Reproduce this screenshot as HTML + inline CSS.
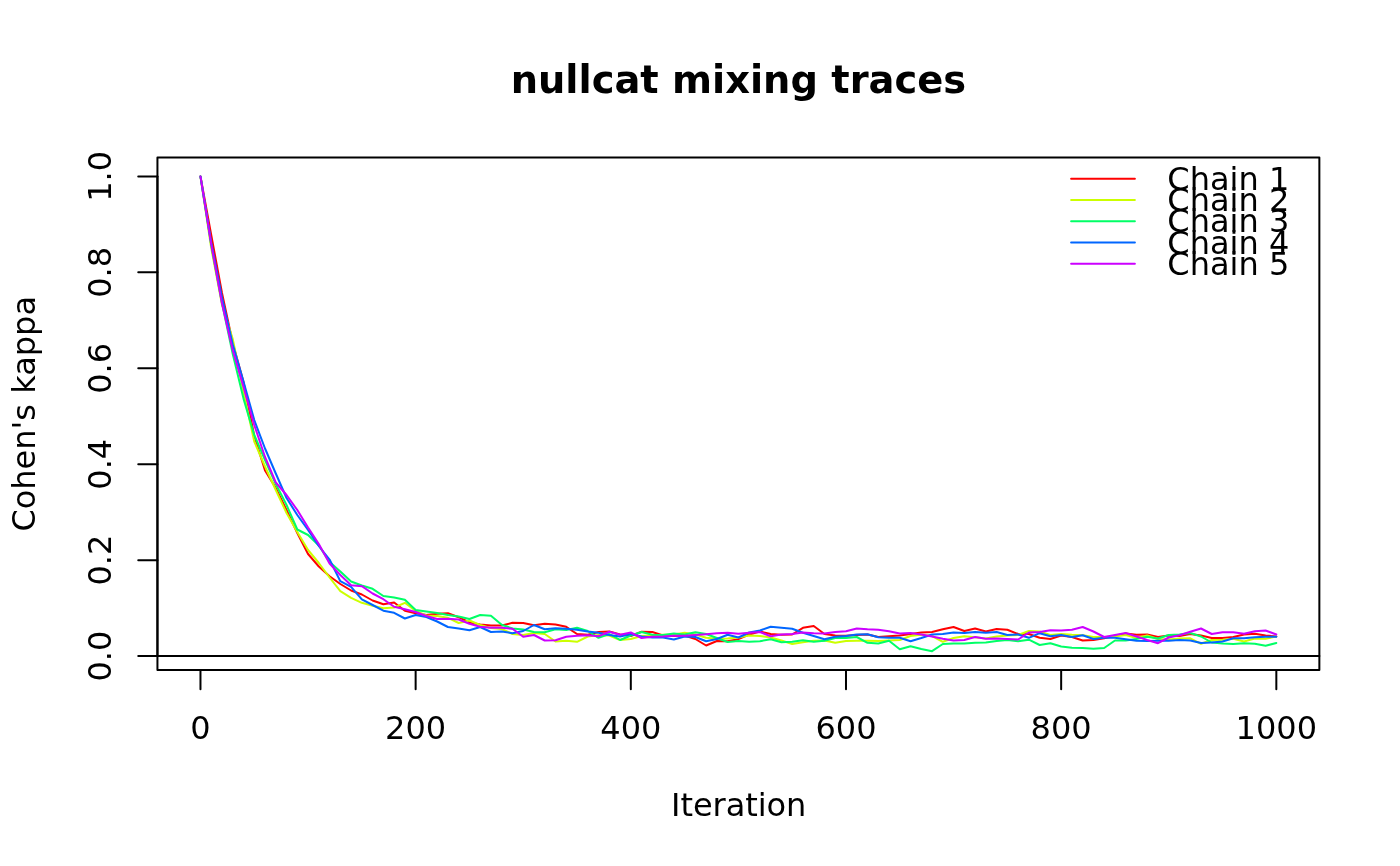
<!DOCTYPE html>
<html lang="en"><head><meta charset="utf-8"><title>nullcat mixing traces</title>
<style>
html,body{margin:0;padding:0;background:#fff;}
body{width:1400px;height:866px;overflow:hidden;}
svg{display:block;}
text{font-family:"DejaVu Sans","Liberation Sans",sans-serif;fill:#000;}
.ax{font-size:32px;}
.ttl{font-size:38.4px;font-weight:bold;}
.ln{fill:none;stroke-width:2;stroke-linecap:round;stroke-linejoin:round;}
.k{stroke:#000;}
</style></head><body>
<svg width="1400" height="866" viewBox="0 0 1400 866">
<rect x="0" y="0" width="1400" height="866" fill="#fff"/>
<polyline class="ln" stroke="#FF0000" points="200.47,176.43 211.23,235.00 221.99,293.00 232.75,343.00 243.50,382.00 254.26,436.00 265.02,470.50 275.78,488.00 286.54,510.00 297.30,533.00 308.06,554.00 318.81,566.50 329.57,576.20 340.33,584.00 351.09,590.50 361.85,594.50 372.61,600.50 383.37,604.20 394.12,602.50 404.88,610.70 415.64,613.20 426.40,615.00 437.16,613.80 447.92,613.20 458.68,617.20 469.43,622.50 480.19,624.50 490.95,625.50 501.71,625.50 512.47,622.80 523.23,623.00 533.99,625.30 544.75,623.70 555.50,624.50 566.26,626.80 577.02,634.00 587.78,634.80 598.54,632.00 609.30,631.50 620.06,634.50 630.81,636.00 641.57,631.80 652.33,632.00 663.09,635.50 673.85,636.00 684.61,635.50 695.37,639.00 706.12,645.50 716.88,641.00 727.64,641.20 738.40,639.20 749.16,634.50 759.92,631.50 770.68,634.00 781.43,634.80 792.19,634.50 802.95,627.80 813.71,626.00 824.47,634.00 835.23,635.50 845.99,635.80 856.74,635.00 867.50,634.50 878.26,637.00 889.02,636.20 899.78,635.50 910.54,634.00 921.30,632.50 932.05,632.00 942.81,629.30 953.57,627.00 964.33,631.00 975.09,628.50 985.85,631.50 996.61,629.00 1007.36,629.70 1018.12,634.00 1028.88,634.00 1039.64,637.70 1050.40,639.00 1061.16,635.50 1071.92,637.00 1082.68,640.50 1093.43,640.00 1104.19,638.20 1114.95,636.00 1125.71,633.50 1136.47,634.80 1147.23,634.50 1157.99,637.00 1168.74,635.50 1179.50,636.00 1190.26,634.00 1201.02,635.50 1211.78,638.00 1222.54,638.00 1233.30,637.00 1244.05,634.50 1254.81,633.80 1265.57,635.50 1276.33,636.50"/>
<polyline class="ln" stroke="#CCFF00" points="200.47,176.43 211.23,248.00 221.99,304.50 232.75,339.00 243.50,392.00 254.26,441.50 265.02,466.50 275.78,490.00 286.54,513.00 297.30,532.00 308.06,550.00 318.81,563.00 329.57,577.50 340.33,591.20 351.09,597.80 361.85,602.80 372.61,605.80 383.37,608.20 394.12,607.50 404.88,602.80 415.64,611.00 426.40,615.50 437.16,616.00 447.92,617.80 458.68,623.00 469.43,620.50 480.19,625.00 490.95,628.00 501.71,629.00 512.47,634.00 523.23,635.00 533.99,633.00 544.75,634.00 555.50,641.50 566.26,640.80 577.02,641.80 587.78,636.50 598.54,635.00 609.30,635.50 620.06,640.00 630.81,639.00 641.57,636.00 652.33,635.50 663.09,634.80 673.85,634.50 684.61,632.80 695.37,634.50 706.12,637.80 716.88,638.80 727.64,638.50 738.40,637.50 749.16,635.50 759.92,636.00 770.68,637.50 781.43,640.50 792.19,644.00 802.95,642.20 813.71,640.80 824.47,640.50 835.23,642.80 845.99,641.00 856.74,640.70 867.50,640.70 878.26,641.00 889.02,640.50 899.78,640.00 910.54,636.00 921.30,634.80 932.05,636.00 942.81,641.80 953.57,638.00 964.33,636.20 975.09,637.20 985.85,638.50 996.61,636.50 1007.36,635.50 1018.12,635.00 1028.88,631.00 1039.64,631.50 1050.40,635.00 1061.16,634.00 1071.92,634.80 1082.68,635.20 1093.43,637.00 1104.19,637.00 1114.95,636.50 1125.71,635.00 1136.47,638.00 1147.23,635.50 1157.99,639.00 1168.74,639.50 1179.50,638.50 1190.26,638.30 1201.02,643.80 1211.78,640.00 1222.54,639.80 1233.30,638.80 1244.05,641.50 1254.81,638.50 1265.57,638.70 1276.33,636.50"/>
<polyline class="ln" stroke="#00FF66" points="200.47,176.43 211.23,245.00 221.99,303.00 232.75,354.00 243.50,398.60 254.26,435.00 265.02,460.00 275.78,484.00 286.54,505.00 297.30,529.50 308.06,535.00 318.81,545.50 329.57,562.00 340.33,571.50 351.09,581.50 361.85,585.50 372.61,588.80 383.37,596.00 394.12,597.50 404.88,599.80 415.64,610.00 426.40,611.50 437.16,613.00 447.92,615.00 458.68,616.50 469.43,619.00 480.19,615.00 490.95,615.70 501.71,624.80 512.47,628.50 523.23,629.50 533.99,632.00 544.75,632.20 555.50,629.20 566.26,630.00 577.02,627.80 587.78,631.00 598.54,637.80 609.30,634.00 620.06,640.00 630.81,635.50 641.57,632.00 652.33,634.80 663.09,635.00 673.85,633.50 684.61,634.50 695.37,632.20 706.12,634.00 716.88,638.00 727.64,642.00 738.40,641.00 749.16,641.80 759.92,641.20 770.68,639.20 781.43,642.20 792.19,641.80 802.95,640.20 813.71,641.80 824.47,640.80 835.23,638.00 845.99,638.00 856.74,637.00 867.50,642.80 878.26,643.50 889.02,640.80 899.78,649.30 910.54,646.20 921.30,649.00 932.05,651.20 942.81,644.00 953.57,643.50 964.33,643.50 975.09,642.80 985.85,642.50 996.61,641.00 1007.36,640.00 1018.12,641.20 1028.88,639.70 1039.64,645.00 1050.40,643.20 1061.16,646.50 1071.92,647.70 1082.68,648.00 1093.43,648.70 1104.19,648.00 1114.95,640.50 1125.71,640.50 1136.47,639.00 1147.23,636.70 1157.99,638.50 1168.74,635.00 1179.50,634.50 1190.26,633.00 1201.02,636.50 1211.78,642.50 1222.54,643.50 1233.30,644.00 1244.05,643.20 1254.81,643.70 1265.57,645.80 1276.33,643.00"/>
<polyline class="ln" stroke="#0066FF" points="200.47,176.43 211.23,242.50 221.99,297.50 232.75,344.30 243.50,381.50 254.26,420.00 265.02,448.50 275.78,473.50 286.54,498.00 297.30,515.00 308.06,530.00 318.81,546.00 329.57,559.50 340.33,581.20 351.09,586.80 361.85,599.30 372.61,605.00 383.37,610.70 394.12,612.80 404.88,618.50 415.64,615.00 426.40,617.00 437.16,621.50 447.92,627.00 458.68,628.50 469.43,630.20 480.19,627.00 490.95,632.00 501.71,631.50 512.47,633.20 523.23,631.00 533.99,625.00 544.75,629.30 555.50,628.20 566.26,628.80 577.02,629.70 587.78,631.50 598.54,632.80 609.30,635.00 620.06,636.50 630.81,634.00 641.57,636.50 652.33,637.50 663.09,637.50 673.85,639.50 684.61,636.50 695.37,637.00 706.12,641.20 716.88,639.00 727.64,634.80 738.40,637.50 749.16,632.50 759.92,630.50 770.68,626.80 781.43,627.80 792.19,628.80 802.95,632.80 813.71,636.00 824.47,639.20 835.23,636.80 845.99,636.00 856.74,634.50 867.50,634.30 878.26,637.20 889.02,637.80 899.78,637.80 910.54,641.20 921.30,638.00 932.05,634.50 942.81,634.00 953.57,632.50 964.33,633.00 975.09,632.00 985.85,632.70 996.61,632.00 1007.36,635.00 1018.12,634.50 1028.88,637.80 1039.64,633.20 1050.40,636.20 1061.16,635.00 1071.92,637.00 1082.68,635.30 1093.43,639.00 1104.19,637.80 1114.95,637.80 1125.71,639.20 1136.47,640.80 1147.23,641.00 1157.99,640.80 1168.74,640.80 1179.50,640.00 1190.26,640.50 1201.02,643.00 1211.78,642.50 1222.54,641.50 1233.30,638.20 1244.05,638.20 1254.81,637.20 1265.57,636.80 1276.33,636.80"/>
<polyline class="ln" stroke="#CC00FF" points="200.47,176.43 211.23,244.50 221.99,303.50 232.75,350.40 243.50,387.00 254.26,425.00 265.02,457.00 275.78,482.50 286.54,495.00 297.30,510.00 308.06,527.50 318.81,544.00 329.57,563.50 340.33,575.00 351.09,585.20 361.85,586.20 372.61,593.50 383.37,599.20 394.12,606.80 404.88,609.20 415.64,612.00 426.40,616.00 437.16,619.00 447.92,618.80 458.68,619.50 469.43,623.70 480.19,626.80 490.95,627.80 501.71,627.80 512.47,628.80 523.23,636.80 533.99,635.00 544.75,640.50 555.50,640.20 566.26,636.80 577.02,635.80 587.78,635.20 598.54,636.20 609.30,631.80 620.06,634.80 630.81,632.50 641.57,638.00 652.33,636.80 663.09,636.50 673.85,635.70 684.61,635.70 695.37,635.00 706.12,634.20 716.88,633.20 727.64,632.80 738.40,633.80 749.16,632.80 759.92,632.00 770.68,636.20 781.43,634.50 792.19,634.00 802.95,632.50 813.71,633.20 824.47,633.50 835.23,632.00 845.99,631.20 856.74,628.50 867.50,629.30 878.26,629.70 889.02,631.30 899.78,633.50 910.54,633.00 921.30,634.50 932.05,636.50 942.81,638.80 953.57,640.50 964.33,640.00 975.09,637.00 985.85,638.80 996.61,638.50 1007.36,639.00 1018.12,639.50 1028.88,632.50 1039.64,632.00 1050.40,630.30 1061.16,630.50 1071.92,629.70 1082.68,627.00 1093.43,631.50 1104.19,637.00 1114.95,635.00 1125.71,633.00 1136.47,636.50 1147.23,640.00 1157.99,643.20 1168.74,637.50 1179.50,635.30 1190.26,631.80 1201.02,628.50 1211.78,634.00 1222.54,632.20 1233.30,632.20 1244.05,633.80 1254.81,631.20 1265.57,630.50 1276.33,634.50"/>
<g class="ln k">
<path d="M200.47 670.00H1276.33"/>
<path d="M200.47 670.00v19.2"/>
<path d="M415.64 670.00v19.2"/>
<path d="M630.81 670.00v19.2"/>
<path d="M845.99 670.00v19.2"/>
<path d="M1061.16 670.00v19.2"/>
<path d="M1276.33 670.00v19.2"/>
<path d="M157.44 656.10V176.43"/>
<path d="M157.44 656.10h-19.2"/>
<path d="M157.44 560.17h-19.2"/>
<path d="M157.44 464.23h-19.2"/>
<path d="M157.44 368.30h-19.2"/>
<path d="M157.44 272.36h-19.2"/>
<path d="M157.44 176.43h-19.2"/>
<rect x="157.44" y="157.44" width="1161.92" height="512.56"/>
<path d="M157.44 656.10H1319.36"/>
</g>
<g class="ax" text-anchor="middle">
<text x="200.47" y="739">0</text>
<text x="415.64" y="739">200</text>
<text x="630.81" y="739">400</text>
<text x="845.99" y="739">600</text>
<text x="1061.16" y="739">800</text>
<text x="1276.33" y="739">1000</text>
<text transform="translate(111.4 656.10) rotate(-90)">0.0</text>
<text transform="translate(111.4 560.17) rotate(-90)">0.2</text>
<text transform="translate(111.4 464.23) rotate(-90)">0.4</text>
<text transform="translate(111.4 368.30) rotate(-90)">0.6</text>
<text transform="translate(111.4 272.36) rotate(-90)">0.8</text>
<text transform="translate(111.4 176.43) rotate(-90)">1.0</text>
<text x="738.7" y="816" style="letter-spacing:-0.05px">Iteration</text>
<text transform="translate(34.6 413.8) rotate(-90)">Cohen's kappa</text>
</g>
<text class="ttl" text-anchor="middle" x="738.4" y="93">nullcat mixing traces</text>
<path class="ln" stroke="#FF0000" d="M1071.1 178.85H1134.9"/>
<path class="ln" stroke="#CCFF00" d="M1071.1 200.05H1134.9"/>
<path class="ln" stroke="#00FF66" d="M1071.1 221.25H1134.9"/>
<path class="ln" stroke="#0066FF" d="M1071.1 242.45H1134.9"/>
<path class="ln" stroke="#CC00FF" d="M1071.1 263.65H1134.9"/>
<g class="ax">
<text x="1167.3" y="190">Chain 1</text>
<text x="1167.3" y="211">Chain 2</text>
<text x="1167.3" y="232">Chain 3</text>
<text x="1167.3" y="254">Chain 4</text>
<text x="1167.3" y="275">Chain 5</text>
</g>
</svg>
</body></html>
